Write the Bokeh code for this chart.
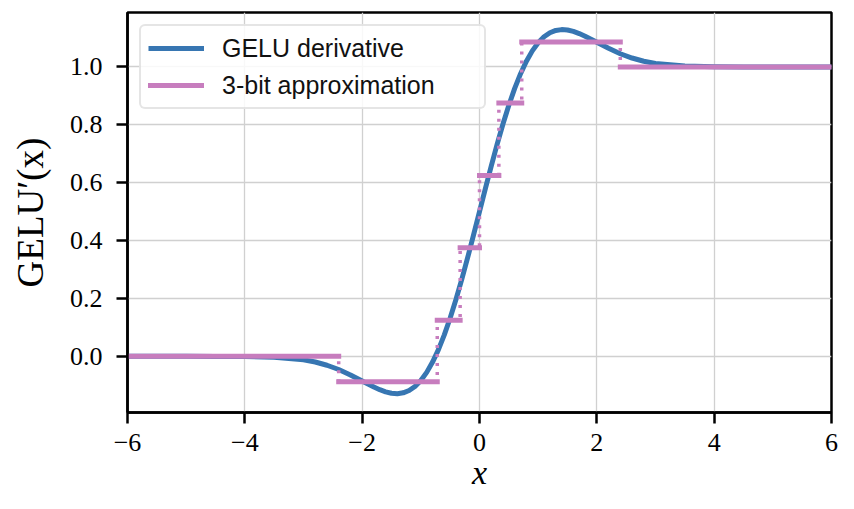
from bokeh.plotting import figure
from bokeh.models import Range1d, FixedTicker, Legend, LegendItem
from bokeh.embed import file_html
from bokeh.resources import INLINE

# GELU derivative curve
x_vals = [-6.0, -5.0, -4.5, -4.0, -3.5, -3.0, -2.8, -2.6, -2.4, -2.2,
          -2.0, -1.9, -1.8, -1.7, -1.6, -1.5, -1.4, -1.3, -1.2, -1.1,
          -1.0, -0.9, -0.8, -0.7, -0.6, -0.5, -0.4, -0.3, -0.2, -0.1,
          0.0, 0.1, 0.2, 0.3, 0.4, 0.5, 0.6, 0.7, 0.8, 0.9,
          1.0, 1.1, 1.2, 1.3, 1.4, 1.5, 1.6, 1.7, 1.8, 1.9,
          2.0, 2.2, 2.4, 2.6, 2.8, 3.0, 3.5, 4.0, 4.5, 5.0, 6.0]
gelu_deriv = [0.0, 0.0, -0.0001, -0.0005, -0.0028, -0.0119, -0.0196, -0.0307, -0.0455, -0.0642,
              -0.0852, -0.0960, -0.1062, -0.1153, -0.1226, -0.1275, -0.1289, -0.1260, -0.1180, -0.1040,
              -0.0833, -0.0554, -0.0199, 0.0234, 0.0743, 0.1325, 0.1973, 0.2677, 0.3425, 0.4205,
              0.5, 0.5795, 0.6575, 0.7323, 0.8027, 0.8675, 0.9257, 0.9766, 1.0199, 1.0554,
              1.0833, 1.1040, 1.1180, 1.1260, 1.1289, 1.1275, 1.1226, 1.1153, 1.1062, 1.0960,
              1.0852, 1.0642, 1.0455, 1.0307, 1.0196, 1.0119, 1.0028, 1.0005, 1.0001, 1.0, 1.0]

# 3-bit step approximation
step_edges = [-6.0, -2.4, -0.72, -0.33, 0.0, 0.33, 0.72, 2.4, 6.0]
step_levels = [0.0, -0.088, 0.125, 0.375, 0.625, 0.875, 1.086, 1.0]

x_ticks = [-6, -4, -2, 0, 2, 4, 6]
x_tick_labels = ["\u22126", "\u22124", "\u22122", "0", "2", "4", "6"]
y_ticks = [0.0, 0.2, 0.4, 0.6, 0.8, 1.0]
y_tick_labels = ["0.0", "0.2", "0.4", "0.6", "0.8", "1.0"]

BLUE = "#3776b2"
PINK = "#c77dbe"
SERIF = "Liberation Serif"

p = figure(width=838, height=493, output_backend="svg", toolbar_location=None,
           x_range=Range1d(-6, 6), y_range=Range1d(-0.194, 1.188),
           min_border_left=127, min_border_right=7, min_border_top=12, min_border_bottom=75)

r_line = p.line(x_vals, gelu_deriv, line_width=5, line_color=BLUE, line_join="round")
p.step(step_edges, step_levels + [step_levels[-1]], mode="after",
       line_color=PINK, line_width=3.5, line_dash="3 6")
r_seg = p.segment(x0=step_edges[:-1], y0=step_levels, x1=step_edges[1:], y1=step_levels,
                  line_color=PINK, line_width=5, line_cap="square")

legend = Legend(items=[LegendItem(label="GELU derivative", renderers=[r_line]),
                       LegendItem(label="3-bit approximation", renderers=[r_seg])],
                location="top_left")
legend.label_text_font = "Liberation Sans"
legend.label_text_font_size = "25px"
legend.label_text_color = "#111111"
legend.glyph_width = 56
legend.glyph_height = 30
legend.label_height = 30
legend.label_width = 255
legend.label_standoff = 18
legend.spacing = 7
legend.padding = 7
legend.margin = 12
legend.border_line_color = "#cccccc"
legend.border_line_width = 2
legend.border_radius = 6
legend.background_fill_alpha = 0.85
p.add_layout(legend)

for ax in (p.xaxis[0], p.yaxis[0]):
    ax.axis_line_width = 2.5
    ax.major_tick_line_width = 2.5
    ax.major_tick_out = 11
    ax.major_tick_in = 0
    ax.minor_tick_out = 0
    ax.minor_tick_in = 0
    ax.major_label_text_font = SERIF
    ax.major_label_text_font_size = "26px"
    ax.major_label_text_color = "black"
    ax.axis_label_text_font = SERIF
    ax.axis_label_text_color = "black"

p.xaxis.ticker = FixedTicker(ticks=x_ticks)
p.xaxis.major_label_overrides = {t: l for t, l in zip(x_ticks, x_tick_labels)}
p.xaxis.major_label_standoff = 10
p.xaxis.axis_label = "x"
p.xaxis.axis_label_text_font_style = "italic"
p.xaxis.axis_label_text_font_size = "34px"
p.xaxis.axis_label_standoff = 0

p.yaxis.ticker = FixedTicker(ticks=y_ticks)
p.yaxis.major_label_overrides = {t: l for t, l in zip(y_ticks, y_tick_labels)}
p.yaxis.major_label_standoff = 14
p.yaxis.axis_label = "GELU\u2032(x)"
p.yaxis.axis_label_text_font_style = "normal"
p.yaxis.axis_label_text_font_size = "37px"
p.yaxis.axis_label_standoff = 16

p.xgrid.ticker = FixedTicker(ticks=x_ticks)
p.ygrid.ticker = FixedTicker(ticks=y_ticks)
p.grid.grid_line_color = "#d0d0d0"
p.grid.grid_line_width = 1.3

p.outline_line_color = "black"
p.outline_line_width = 2.5
p.outline_line_alpha = 1.0
p.background_fill_color = "white"
p.border_fill_color = "white"

open("out.html", "w").write(file_html(p, INLINE))
